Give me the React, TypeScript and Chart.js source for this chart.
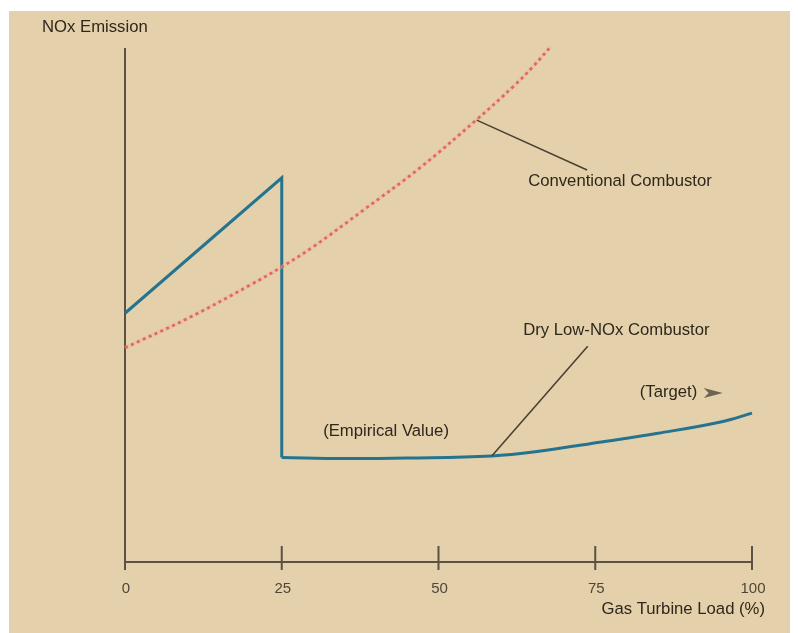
import React, { useEffect, useRef } from "react";
import { Chart, registerables } from "chart.js";

Chart.register(...registerables);

// ---- data ----
const loadTicks = [0, 25, 50, 75, 100];
const dlnRampLoad = [0, 25, 25];
const dlnRampNox = [48.3, 74.6, 20.3];
const dlnCurveLoad = [25, 35, 45, 58.5, 66, 76, 85, 95, 100];
const dlnCurveNox = [20.3, 20.1, 20.2, 20.6, 21.5, 23.3, 25.0, 27.2, 28.9];
const convLoad = [0, 10, 20, 25, 30, 38, 47, 56, 62, 65, 68];
const convNox = [41.6, 47.3, 53.8, 57.3, 61.2, 68.3, 76.5, 85.8, 92.4, 96.1, 100.2];

const yAxisTitle = "NOx Emission";
const xAxisTitle = "Gas Turbine Load (%)";
const convLabel = "Conventional Combustor";
const dlnLabel = "Dry Low-NOx Combustor";
const empiricalLabel = "(Empirical Value)";
const targetLabel = "(Target)";

const toPts = (xs: number[], ys: number[]) => xs.map((x, i) => ({ x, y: ys[i] }));

const BG = "#e4d1ab";
const AXIS = "#5b5243";
const TEXT = "#2e271c";
const FONT = "'Liberation Sans', Arial, sans-serif";

const decorPlugin = {
  id: "decor",
  beforeDraw(chart: any) {
    const ctx = chart.ctx;
    ctx.save();
    ctx.fillStyle = "#ffffff";
    ctx.fillRect(0, 0, chart.width, chart.height);
    ctx.fillStyle = BG;
    ctx.fillRect(9, 11, 781, 622);
    ctx.restore();
  },
  beforeDatasetsDraw(chart: any) {
    const ctx = chart.ctx;
    const xs = chart.scales.x;
    const ys = chart.scales.y;
    const x0 = xs.getPixelForValue(0);
    const x1 = xs.getPixelForValue(100);
    const y0 = ys.getPixelForValue(0);
    const yTop = ys.getPixelForValue(100) + 1;
    ctx.save();
    ctx.strokeStyle = AXIS;
    ctx.lineWidth = 2;
    ctx.beginPath();
    ctx.moveTo(x0, yTop);
    ctx.lineTo(x0, y0 + 8);
    ctx.moveTo(x0, y0);
    ctx.lineTo(x1, y0);
    loadTicks.forEach((t) => {
      if (t === 0) return;
      const px = xs.getPixelForValue(t);
      ctx.moveTo(px, y0 - 16);
      ctx.lineTo(px, y0 + 8);
    });
    ctx.stroke();
    ctx.fillStyle = "#4e4739";
    ctx.font = `15px ${FONT}`;
    ctx.textAlign = "center";
    ctx.textBaseline = "middle";
    loadTicks.forEach((t) => {
      ctx.fillText(String(t), xs.getPixelForValue(t) + 1, y0 + 27);
    });
    ctx.restore();
  },
  afterDraw(chart: any) {
    const ctx = chart.ctx;
    const xs = chart.scales.x;
    const ys = chart.scales.y;
    const P = (x: number, y: number) => [xs.getPixelForValue(x), ys.getPixelForValue(y)];
    const ca = chart.chartArea;
    ctx.save();
    ctx.fillStyle = TEXT;
    ctx.font = `16.7px ${FONT}`;
    ctx.textBaseline = "middle";
    ctx.textAlign = "left";
    ctx.fillText(yAxisTitle, ca.left - 83, ca.top - 20);
    ctx.textAlign = "right";
    ctx.fillText(xAxisTitle, ca.right + 13, ca.bottom + 47);
    ctx.textAlign = "left";
    let [tx, ty] = P(64.3, 74.0);
    ctx.fillText(convLabel, tx, ty);
    [tx, ty] = P(63.5, 45.0);
    ctx.fillText(dlnLabel, tx, ty);
    [tx, ty] = P(31.6, 25.3);
    ctx.fillText(empiricalLabel, tx, ty);
    [tx, ty] = P(82.1, 33.0);
    ctx.fillText(targetLabel, tx, ty);

    // leader lines
    ctx.strokeStyle = "#4a4232";
    ctx.lineWidth = 1.6;
    ctx.beginPath();
    let [a, b] = P(56.1, 85.8);
    ctx.moveTo(a, b);
    [a, b] = P(73.7, 76.1);
    ctx.lineTo(a, b);
    [a, b] = P(73.8, 41.9);
    ctx.moveTo(a, b);
    [a, b] = P(58.5, 20.6);
    ctx.lineTo(a, b);
    ctx.stroke();

    // target arrowhead
    const [ax, ay] = P(92.3, 32.8);
    ctx.fillStyle = "#6b6353";
    ctx.beginPath();
    ctx.moveTo(ax, ay - 5);
    ctx.lineTo(ax + 19, ay);
    ctx.lineTo(ax, ay + 5);
    ctx.lineTo(ax + 5, ay);
    ctx.closePath();
    ctx.fill();
    ctx.restore();
  },
};

export default function App() {
  const ref = useRef<HTMLCanvasElement | null>(null);
  useEffect(() => {
    if (!ref.current) return;
    const conv = toPts(convLoad, convNox);
    const ramp = toPts(dlnRampLoad, dlnRampNox);
    const curve = toPts(dlnCurveLoad, dlnCurveNox);
    const chart = new Chart(ref.current, {
      type: "line",
      data: {
        datasets: [
          {
            data: conv,
            borderColor: "rgba(240,175,155,0.35)",
            borderWidth: 4,
            pointRadius: 0,
            tension: 0.4,
          },
          {
            data: conv,
            borderColor: "#d5443e",
            borderWidth: 2.8,
            borderDash: [3, 3.5],
            pointRadius: 0,
            tension: 0.4,
          },
          {
            data: ramp,
            borderColor: "#26738f",
            borderWidth: 3,
            pointRadius: 0,
            tension: 0,
            borderJoinStyle: "miter",
          },
          {
            data: curve,
            borderColor: "#26738f",
            borderWidth: 3,
            pointRadius: 0,
            tension: 0.4,
          },
        ],
      } as any,
      options: {
        animation: false,
        responsive: false,
        devicePixelRatio: 1,
        layout: { padding: { left: 125, top: 47, right: 46, bottom: 71 } },
        plugins: { legend: { display: false }, tooltip: { enabled: false } },
        elements: { line: { fill: false } },
        scales: {
          x: { type: "linear", min: 0, max: 100, display: false },
          y: { type: "linear", min: 0, max: 100, display: false },
        },
        clip: false,
      } as any,
      plugins: [decorPlugin],
    });
    return () => chart.destroy();
  }, []);
  return (
    <div style={{ position: "fixed", left: 0, top: 0, width: 798, height: 633, background: "#fff" }}>
      <canvas ref={ref} width={798} height={633} style={{ display: "block", width: 798, height: 633 }} />
    </div>
  );
}
